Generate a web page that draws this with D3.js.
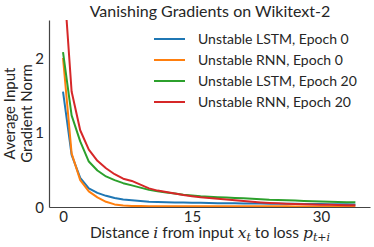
<!DOCTYPE html>
<html>
<head>
<meta charset="utf-8">
<script src="https://cdn.jsdelivr.net/npm/d3@7"></script>
<style>
  body { margin: 0; background: #fff; }
  svg { display: block; font-family: Lato, "Open Sans", sans-serif; }
</style>
</head>
<body>
<div id="chart"></div>
<script>
// distance i = 0..34
const distances = d3.range(0, 35);
const seriesNames = ['Unstable LSTM, Epoch 0', 'Unstable RNN, Epoch 0', 'Unstable LSTM, Epoch 20', 'Unstable RNN, Epoch 20'];
const colors = ['#1f77b4', '#ff7f0e', '#2ca02c', '#d62728'];

const lstmEpoch0 = [1.55, 0.70, 0.39, 0.25, 0.19, 0.15, 0.12, 0.10, 0.09, 0.08, 0.07, 0.068, 0.065, 0.062, 0.06,
  0.058, 0.056, 0.054, 0.052, 0.05, 0.049, 0.048, 0.047, 0.046, 0.045, 0.044, 0.043, 0.042, 0.041, 0.04,
  0.039, 0.038, 0.037, 0.036, 0.035];
const rnnEpoch0 = [2.0, 0.72, 0.36, 0.21, 0.13, 0.07, 0.035, 0.02, 0.015, 0.012, 0.01, 0.01, 0.01, 0.01, 0.01,
  0.01, 0.01, 0.01, 0.01, 0.01, 0.009, 0.009, 0.009, 0.009, 0.009, 0.009, 0.009, 0.008, 0.008, 0.008,
  0.008, 0.008, 0.008, 0.008, 0.008];
const lstmEpoch20 = [2.08, 1.23, 0.88, 0.61, 0.49, 0.41, 0.36, 0.32, 0.29, 0.26, 0.23, 0.21, 0.195, 0.18, 0.165,
  0.155, 0.145, 0.138, 0.132, 0.127, 0.122, 0.117, 0.112, 0.105, 0.098, 0.094, 0.09, 0.086, 0.082, 0.078,
  0.075, 0.072, 0.068, 0.065, 0.063];
const rnnEpoch20 = [3.2, 1.55, 1.03, 0.77, 0.62, 0.52, 0.44, 0.38, 0.35, 0.3, 0.25, 0.22, 0.2, 0.18, 0.16,
  0.145, 0.13, 0.12, 0.11, 0.1, 0.09, 0.08, 0.07, 0.062, 0.055, 0.05, 0.045, 0.04, 0.037, 0.034,
  0.031, 0.029, 0.027, 0.025, 0.024];
const allSeries = [lstmEpoch0, rnnEpoch0, lstmEpoch20, rnnEpoch20];

const xTicks = [0, 15, 30];
const yTicks = [0, 1, 2];

const width = 374, height = 247;
const margin = { top: 20, right: 4, bottom: 40, left: 49 };
const textColor = '#262626';

const svg = d3.select('#chart').append('svg')
  .attr('width', width)
  .attr('height', height);

const x = d3.scaleLinear()
  .domain([-1.63, 35.7])
  .range([margin.left, width - margin.right]);

const y = d3.scaleLinear()
  .domain([0, 2.51])
  .range([height - margin.bottom, margin.top]);

svg.append('defs').append('clipPath')
  .attr('id', 'plot-clip')
  .append('rect')
  .attr('x', margin.left)
  .attr('y', margin.top)
  .attr('width', width - margin.left - margin.right)
  .attr('height', height - margin.top - margin.bottom);

// lines
const line = d3.line()
  .x((d, i) => x(distances[i]))
  .y(d => y(d));

svg.append('g')
  .attr('clip-path', 'url(#plot-clip)')
  .selectAll('path')
  .data(allSeries)
  .enter()
  .append('path')
  .attr('d', d => line(d))
  .attr('fill', 'none')
  .attr('stroke', (d, i) => colors[i])
  .attr('stroke-width', 2)
  .attr('stroke-linejoin', 'round');

// axes (no tick marks, just spines + labels)
const xAxis = svg.append('g')
  .attr('transform', `translate(0,${height - margin.bottom})`)
  .call(d3.axisBottom(x).tickValues(xTicks).tickFormat(d3.format('d')).tickSize(0).tickPadding(4));
const yAxis = svg.append('g')
  .attr('transform', `translate(${margin.left},0)`)
  .call(d3.axisLeft(y).tickValues(yTicks).tickFormat(d3.format('d')).tickSize(0).tickPadding(5));

[xAxis, yAxis].forEach(a => {
  a.select('.domain').attr('stroke', '#444').attr('stroke-width', 1.2);
  a.selectAll('text')
    .attr('fill', textColor)
    .style('font-size', '15px')
    .style('font-family', 'Lato, sans-serif');
});
yAxis.selectAll('text').attr('dy', '0.36em');

// title
svg.append('text')
  .attr('x', 210)
  .attr('y', 16.5)
  .attr('text-anchor', 'middle')
  .attr('fill', textColor)
  .style('font-size', '16px')
  .text('Vanishing Gradients on Wikitext-2');

// y label, two lines
const yLab = svg.append('text')
  .attr('transform', `translate(0,${(margin.top + height - margin.bottom) / 2}) rotate(-90)`)
  .attr('text-anchor', 'middle')
  .attr('fill', textColor)
  .style('font-size', '15px');
yLab.append('tspan').attr('x', 0).attr('y', 15).text('Average Input');
yLab.append('tspan').attr('x', 0).attr('y', 32).text('Gradient Norm');

// x label with math bits
const xLab = svg.append('text')
  .attr('x', 210)
  .attr('y', 238)
  .attr('text-anchor', 'middle')
  .attr('fill', textColor)
  .style('font-size', '15.5px');
const mathFont = '"DejaVu Serif", serif';
xLab.append('tspan').text('Distance ');
xLab.append('tspan').attr('font-style', 'italic').attr('font-family', mathFont).text('i');
xLab.append('tspan').text(' from input ');
xLab.append('tspan').attr('font-style', 'italic').attr('font-family', mathFont).text('x');
xLab.append('tspan').attr('font-style', 'italic').attr('font-family', mathFont)
  .attr('font-size', '11px').attr('dy', 3).text('t');
xLab.append('tspan').attr('dy', -3).text(' to loss ');
xLab.append('tspan').attr('font-style', 'italic').attr('font-family', mathFont).text('p');
xLab.append('tspan').attr('font-style', 'italic').attr('font-family', mathFont)
  .attr('font-size', '11px').attr('dy', 3).text('t+i');

// legend
const legend = svg.append('g');
seriesNames.forEach((name, i) => {
  const ly = 39 + i * 21;
  legend.append('line')
    .attr('x1', 154).attr('x2', 185)
    .attr('y1', ly).attr('y2', ly)
    .attr('stroke', colors[i])
    .attr('stroke-width', 2);
  legend.append('text')
    .attr('x', 198)
    .attr('y', ly)
    .attr('dy', '0.35em')
    .attr('fill', textColor)
    .style('font-size', '14px')
    .text(name);
});
</script>
</body>
</html>
